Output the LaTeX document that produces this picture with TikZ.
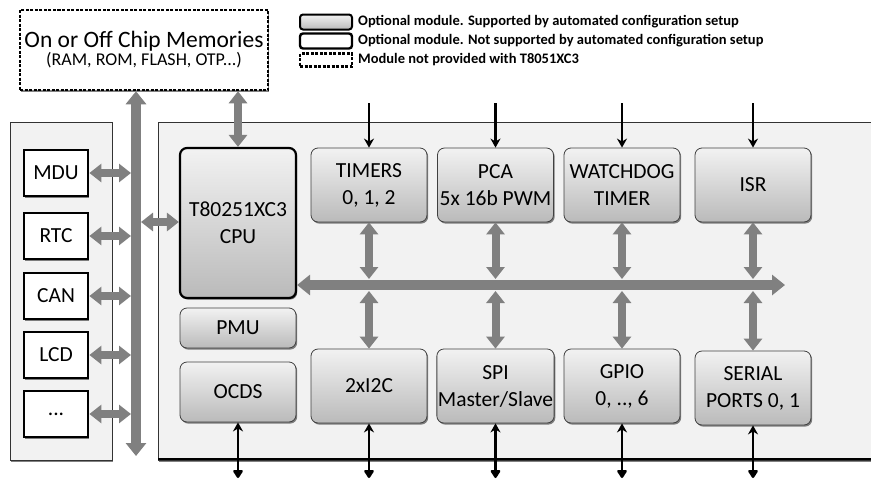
\documentclass[tikz,border=0pt]{standalone}
\usepackage{fontspec}
\setmainfont{Carlito}
\usetikzlibrary{arrows.meta, shadows, calc}

\definecolor{panel}{HTML}{F2F2F2}
\definecolor{busgray}{HTML}{808080}
\definecolor{modtop}{HTML}{F2F2F2}
\definecolor{modbot}{HTML}{BABABA}

\newcommand{\modfont}{\fontsize{21.5}{27}\selectfont}
\newcommand{\legfont}{\fontsize{14.5}{16}\selectfont\bfseries}

\tikzset{
  shade/.style={drop shadow={shadow xshift=1.2pt, shadow yshift=-1.6pt, fill=black!70, opacity=.7}},
  module/.style={draw=black!75, line width=.8pt, rounded corners=7pt, top color=modtop, bottom color=modbot,
    minimum width=116pt, minimum height=74pt, align=center, font=\modfont, inner sep=1pt, shade},
  extmod/.style={draw=black, line width=2.8pt, fill=white, minimum width=64pt, minimum height=46pt,
    font=\modfont, shade},
  dashbox/.style={draw, dash pattern=on 3pt off 1.5pt, line width=2.5pt, fill=white},
  fat/.style={busgray, line width=8pt, {Triangle[length=12pt,width=18pt]}-{Triangle[length=12pt,width=18pt]}},
  fatbus/.style={busgray, line width=10pt, {Triangle[length=13pt,width=20pt]}-{Triangle[length=13pt,width=20pt]}},
  sigin/.style={line width=2.6pt, -{Stealth[length=9pt,width=10pt]}},
  sigio/.style={line width=2.6pt, {Stealth[length=9pt,width=10pt]}-{Triangle[round,length=9pt,width=11pt]}},
  legtext/.style={anchor=west, font=\legfont, inner sep=0pt},
}

\begin{document}
\begin{tikzpicture}[x=1pt, y=-1pt]
\useasboundingbox (0,0) rectangle (871,483);

% panels
\draw[panel, fill=panel, shade] (10,122) rectangle (112,460);
\draw[black!80, line width=.8pt] (10,122) rectangle (112,460);
\draw[fill=panel, shade] (158,122) rectangle (885,460);
\draw[black!80, line width=.8pt] (158,122) rectangle (885,460);
\draw[line width=2.5pt] (158,459) -- (885,459);

% memories and legend
\node[dashbox, minimum width=248pt, minimum height=80pt, align=center, shade, inner sep=0pt] (mem) at (144,50)
  {{\fontsize{23.5}{28}\selectfont On or Off Chip Memories}\\{\fontsize{18}{22}\selectfont (RAM, ROM, FLASH, OTP...)}};

\node[draw, line width=2pt, rounded corners=3pt, top color=modtop, bottom color=modbot, minimum width=52pt,
  minimum height=15pt, inner sep=0pt] (legA) at (326,22) {};
\node[draw, line width=2.4pt, rounded corners=3pt, fill=white, minimum width=52pt, minimum height=15pt,
  inner sep=0pt] (legB) at (326,41) {};
\node[dashbox, minimum width=52pt, minimum height=13pt, inner sep=0pt] (legC) at (326,60) {};
\node[legtext] (legAt) at (358,22) {Optional module. Supported by automated configuration setup};
\node[legtext] (legBt) at (358,41) {Optional module. Not supported by automated configuration setup};
\node[legtext] (legCt) at (358,60) {Module not provided with T8051XC3};

% external modules
\node[extmod] (mdu) at (56,173) {MDU};
\node[extmod] (rtc) at (56,236) {RTC};
\node[extmod] (can) at (56,296) {CAN};
\node[extmod] (lcd) at (56,355) {LCD};
\node[extmod] (dots) at (56,414) {...};

% core
\node[module, draw=black, line width=2.2pt, minimum height=150pt] (cpu) at (238,223) {T80251XC3\\CPU};
\node[module, minimum height=40pt] (pmu) at (238,328) {PMU};
\node[module, minimum height=60pt] (ocds) at (238,392) {OCDS};

\node[module] (timers) at (369,185) {TIMERS\\0, 1, 2};
\node[module] (pca) at (495.5,185) {PCA\\5x 16b PWM};
\node[module] (wdt) at (622,185) {WATCHDOG\\TIMER};
\node[module] (isr) at (753,185) {ISR};
\node[module] (itwoc) at (369,386) {2xI2C};
\node[module] (spi) at (495.5,386) {SPI\\Master/Slave};
\node[module] (gpio) at (622,386) {GPIO\\0, .., 6};
\node[module] (serial) at (753,388) {SERIAL\\PORTS 0, 1};

% buses
\coordinate (busx) at (136,0);
\coordinate (busB) at (136,456);
\coordinate (cpuin) at (136,222);
\coordinate (hbusE) at (785,285);
\coordinate (topy) at (0,103);
\coordinate (boty) at (0,478);

\draw[fatbus] (mem.south -| busx) -- (busB);
\draw[fatbus] (cpu.east |- hbusE) -- (hbusE);
\draw[fat] (cpu.north |- mem.south) -- (cpu.north);
\draw[fat, shorten <=5pt] (cpuin) -- (cpuin -| cpu.west);
\foreach \m in {mdu, rtc, can, lcd, dots}
  \draw[fat, shorten >=5pt] (\m.east) -- (\m.east -| busx);
\foreach \m in {timers, pca, wdt, isr}{
  \draw[fat, shorten >=6pt] (\m.south) -- (\m.south |- hbusE);
  \draw[sigin] (\m.north |- topy) -- (\m.north);
}
\foreach \m in {itwoc, spi, gpio, serial}{
  \draw[fat, shorten >=6pt] (\m.north) -- (\m.north |- hbusE);
  \draw[sigio] (\m.south) -- (\m.south |- boty);
}
\draw[sigio] (ocds.south) -- (ocds.south |- boty);
\end{tikzpicture}
\end{document}
